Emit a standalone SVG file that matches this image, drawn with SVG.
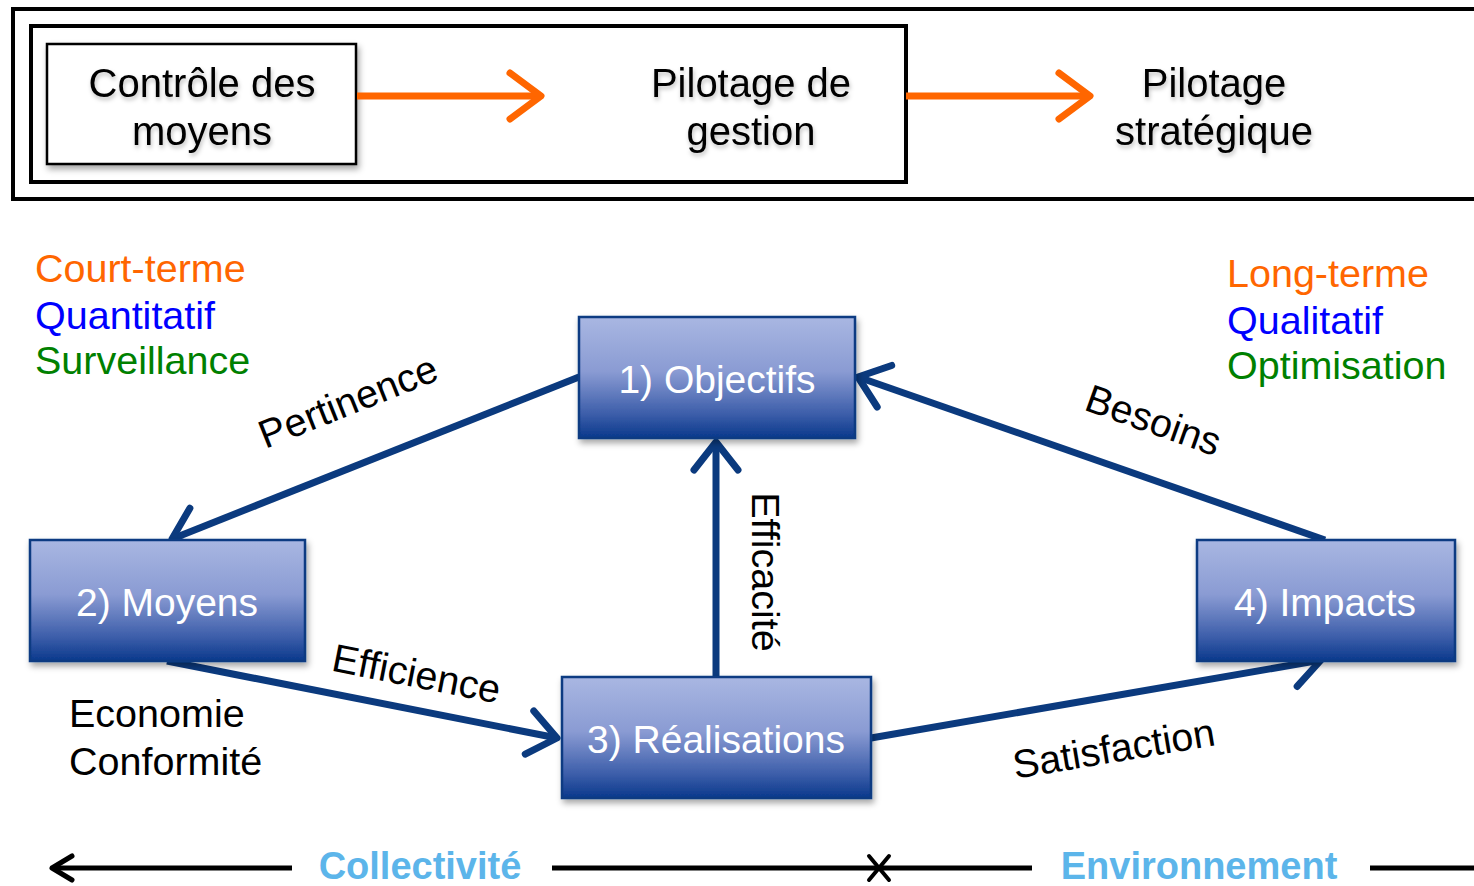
<svg xmlns="http://www.w3.org/2000/svg" width="1474" height="886" viewBox="0 0 1474 886">
<defs>
<linearGradient id="bg" x1="0" y1="0" x2="0" y2="1">
<stop offset="0" stop-color="#a9b7e2"/>
<stop offset="0.45" stop-color="#8a9bd3"/>
<stop offset="0.8" stop-color="#3d5eaa"/>
<stop offset="1" stop-color="#0a398c"/>
</linearGradient>
<filter id="sh" x="-10%" y="-10%" width="130%" height="140%">
<feDropShadow dx="2" dy="4" stdDeviation="3" flood-color="#000" flood-opacity="0.35"/>
</filter>
<filter id="tsh" x="-10%" y="-20%" width="120%" height="150%">
<feDropShadow dx="1" dy="3" stdDeviation="2" flood-color="#000" flood-opacity="0.25"/>
</filter>
<marker id="bhead" markerUnits="userSpaceOnUse" markerWidth="60" markerHeight="60" viewBox="-40 -30 50 60" refX="0" refY="0" orient="auto">
<path d="M -28 -22 L 0 0 L -28 22" fill="none" stroke="#0b3a7e" stroke-width="7" stroke-linecap="round" stroke-linejoin="round"/>
</marker>
<marker id="ohead" markerUnits="userSpaceOnUse" markerWidth="60" markerHeight="70" viewBox="-40 -35 50 70" refX="0" refY="0" orient="auto">
<path d="M -31 -23 L 0 0 L -31 23" fill="none" stroke="#ff6600" stroke-width="7" stroke-linecap="round" stroke-linejoin="round"/>
</marker>
<marker id="khead" markerUnits="userSpaceOnUse" markerWidth="40" markerHeight="40" viewBox="-30 -20 40 40" refX="0" refY="0" orient="auto">
<path d="M -20 -12 L 0 0 L -20 12" fill="none" stroke="#000" stroke-width="5" stroke-linecap="round" stroke-linejoin="round"/>
</marker>
</defs>
<style>
text{font-family:"Liberation Sans",Arial,sans-serif;}
.top{font-size:40px;fill:#000;text-anchor:middle;}
.nl{font-size:39px;fill:#fff;text-anchor:middle;}
.lbl{font-size:39.5px;fill:#000;text-anchor:middle;}
.side{font-size:39.5px;}
.node{fill:url(#bg);stroke:#0b3a82;stroke-width:2.5;}
.conn{fill:none;stroke:#0b3a7e;stroke-width:7;}
.oconn{fill:none;stroke:#ff6600;stroke-width:7;}
.bot{font-size:38px;font-weight:bold;fill:#5cb5ea;text-anchor:middle;}
</style>

<g id="frames">
<rect x="13" y="9" width="1475" height="190" fill="none" stroke="#000" stroke-width="4"/>
<rect x="31" y="26" width="875" height="156" fill="none" stroke="#000" stroke-width="4"/>
</g>

<g id="controle">
<rect x="47" y="44" width="309" height="120" fill="#fff" stroke="#000" stroke-width="2.5" filter="url(#sh)"/>
<text class="top" x="202" y="97" filter="url(#tsh)">Contrôle des</text>
<text class="top" x="202" y="145" filter="url(#tsh)">moyens</text>
</g>
<g id="pilotage-gestion">
<text class="top" x="751" y="97" filter="url(#tsh)">Pilotage de</text>
<text class="top" x="751" y="145" filter="url(#tsh)">gestion</text>
</g>
<g id="pilotage-strategique">
<text class="top" x="1214" y="97" filter="url(#tsh)">Pilotage</text>
<text class="top" x="1214" y="145" filter="url(#tsh)">stratégique</text>
</g>

<g id="side-left">
<text class="side" x="35" y="282" fill="#ff6600">Court-terme</text>
<text class="side" x="35" y="329" fill="#0000ff">Quantitatif</text>
<text class="side" x="35" y="374" fill="#008000">Surveillance</text>
</g>
<g id="side-right">
<text class="side" x="1227" y="287" fill="#ff6600">Long-terme</text>
<text class="side" x="1227" y="334" fill="#0000ff">Qualitatif</text>
<text class="side" x="1227" y="379" fill="#008000">Optimisation</text>
</g>
<g id="notes">
<text class="side" x="69" y="727" fill="#000">Economie</text>
<text class="side" x="69" y="775" fill="#000">Conformité</text>
</g>

<g id="connectors">
<line class="oconn" x1="357" y1="96" x2="541" y2="96" marker-end="url(#ohead)"/>
<line class="oconn" x1="906" y1="96" x2="1090" y2="96" marker-end="url(#ohead)"/>
<line class="conn" x1="579" y1="377" x2="172" y2="539" marker-end="url(#bhead)"/>
<line class="conn" x1="1325" y1="540" x2="858" y2="377" marker-end="url(#bhead)"/>
<line class="conn" x1="716" y1="677" x2="716" y2="442" marker-end="url(#bhead)"/>
<line class="conn" x1="167" y1="661" x2="557" y2="738" marker-end="url(#bhead)"/>
<line class="conn" x1="871" y1="738" x2="1321" y2="660" marker-end="url(#bhead)"/>
<text class="lbl" transform="translate(353,414) rotate(-21.7)">Pertinence</text>
<text class="lbl" transform="translate(1149,433) rotate(19.5)">Besoins</text>
<text class="lbl" transform="translate(752,572) rotate(90)">Efficacité</text>
<text class="lbl" transform="translate(414,687) rotate(11.1)">Efficience</text>
<text class="lbl" transform="translate(1116,762) rotate(-9.5)">Satisfaction</text>
</g>

<g id="objectifs">
<rect class="node" x="579" y="317" width="276" height="121" filter="url(#sh)"/>
<text class="nl" x="717" y="393">1) Objectifs</text>
</g>
<g id="moyens">
<rect class="node" x="30" y="540" width="275" height="121" filter="url(#sh)"/>
<text class="nl" x="167" y="616">2) Moyens</text>
</g>
<g id="realisations">
<rect class="node" x="562" y="677" width="309" height="121" filter="url(#sh)"/>
<text class="nl" x="716" y="753">3) Réalisations</text>
</g>
<g id="impacts">
<rect class="node" x="1197" y="540" width="258" height="121" filter="url(#sh)"/>
<text class="nl" x="1325" y="616">4) Impacts</text>
</g>

<g id="bottom-axis">
<line x1="292" y1="868" x2="52" y2="868" stroke="#000" stroke-width="5" marker-end="url(#khead)"/>
<line x1="552" y1="868" x2="1032" y2="868" stroke="#000" stroke-width="5"/>
<line x1="1370" y1="868" x2="1474" y2="868" stroke="#000" stroke-width="5"/>
<path d="M 869 856 L 889 880 M 889 856 L 869 880" stroke="#000" stroke-width="4" fill="none" stroke-linecap="round"/>
<text class="bot" x="420" y="879">Collectivité</text>
<text class="bot" x="1199" y="879">Environnement</text>
</g>
</svg>
